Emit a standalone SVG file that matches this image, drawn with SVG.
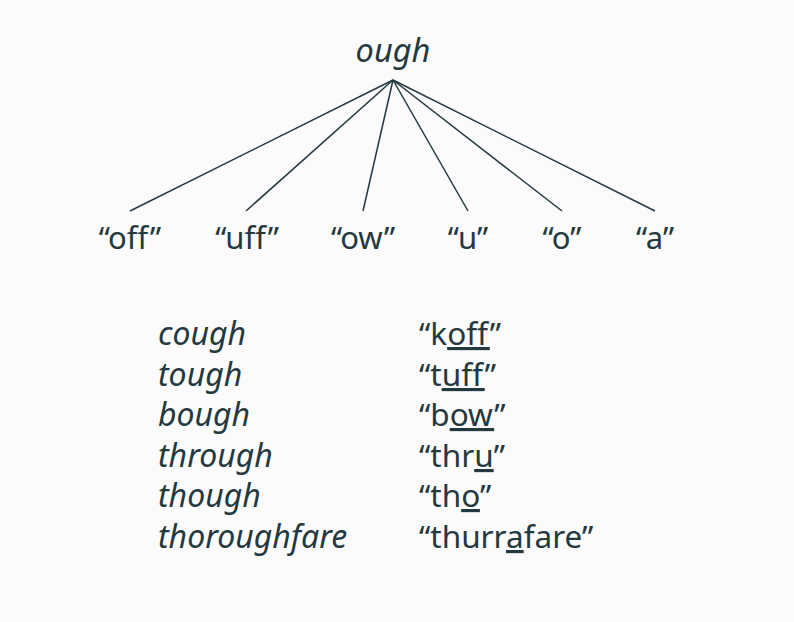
<svg xmlns="http://www.w3.org/2000/svg" width="794" height="622" viewBox="0 0 794 622">
<style>
text{font-family:"Noto Sans","Open Sans",sans-serif;fill:#243840}
.it{font-style:italic;font-size:32px}
.lab{font-size:31px;text-anchor:middle}
.rt{font-size:31.5px}
.u{text-decoration:underline;text-decoration-thickness:1.5px;text-underline-offset:6px}
.c line{stroke:#243840;stroke-width:1.5}
</style>
<rect width="794" height="622" fill="#fbfbfb"/>
<g id="root"><text class="it" x="393" y="62" text-anchor="middle" style="font-size:32.5px">ough</text></g>
<g class="c" id="connectors">
<line x1="393" y1="80" x2="130" y2="211"/>
<line x1="393" y1="80" x2="246" y2="211"/>
<line x1="393" y1="80" x2="363" y2="211"/>
<line x1="393" y1="80" x2="468" y2="211"/>
<line x1="393" y1="80" x2="562" y2="211"/>
<line x1="393" y1="80" x2="655" y2="211"/>
</g>
<g id="n-off"><text class="lab" x="130" y="249">“off”</text></g>
<g id="n-uff"><text class="lab" x="247" y="249">“uff”</text></g>
<g id="n-ow"><text class="lab" x="363" y="249">“ow”</text></g>
<g id="n-u"><text class="lab" x="468" y="249">“u”</text></g>
<g id="n-o"><text class="lab" x="562" y="249">“o”</text></g>
<g id="n-a"><text class="lab" x="655" y="249">“a”</text></g>
<g id="words">
<text class="it" x="158" y="345">cough</text>
<text class="it" x="158" y="386">tough</text>
<text class="it" x="158" y="426">bough</text>
<text class="it" x="158" y="467">through</text>
<text class="it" x="158" y="507">though</text>
<text class="it" x="158" y="548">thoroughfare</text>
</g>
<g id="prons">
<text class="rt" x="419" y="345">“k<tspan class="u">off</tspan>”</text>
<text class="rt" x="419" y="386">“t<tspan class="u">uff</tspan>”</text>
<text class="rt" x="419" y="426">“b<tspan class="u">ow</tspan>”</text>
<text class="rt" x="419" y="467">“thr<tspan class="u">u</tspan>”</text>
<text class="rt" x="419" y="507">“th<tspan class="u">o</tspan>”</text>
<text class="rt" x="419" y="548">“thurr<tspan class="u">a</tspan>fare”</text>
</g>
</svg>
